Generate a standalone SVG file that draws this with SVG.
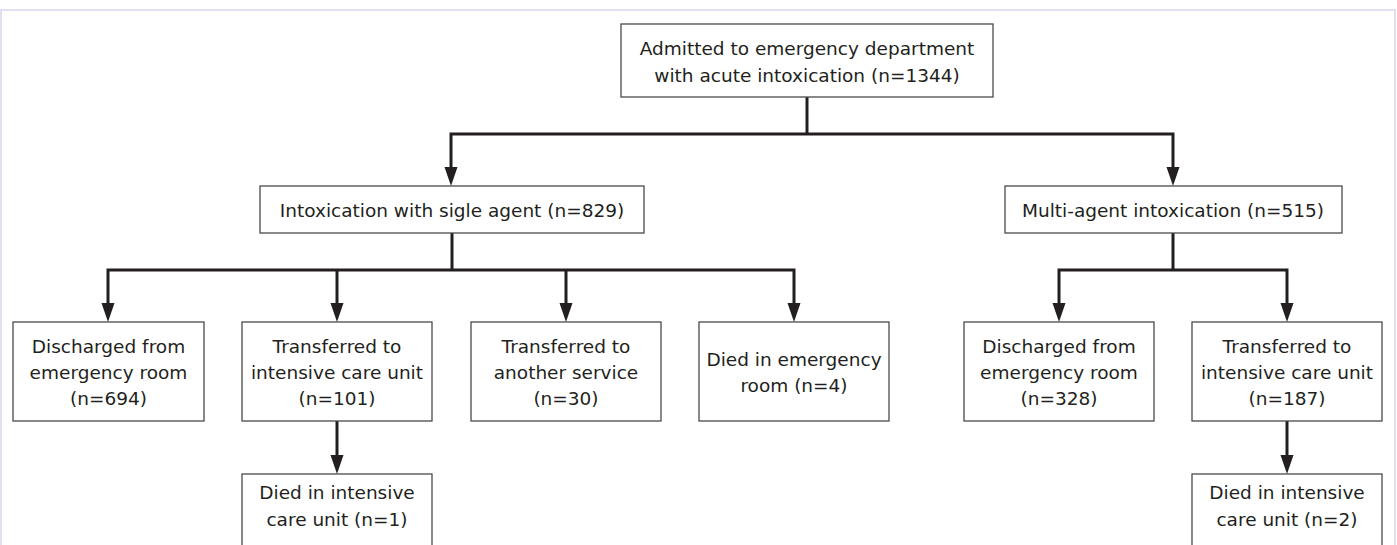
<svg xmlns="http://www.w3.org/2000/svg" width="1397" height="545" viewBox="0 0 1397 545">
<defs>
<style>
.box{fill:#fff;stroke:#4a4a4a;stroke-width:1.3}
.t{font-family:"DejaVu Sans","Verdana",sans-serif;font-size:18.5px;fill:#231f20;text-anchor:middle}
.c{fill:none;stroke:#231f20;stroke-width:3;stroke-linejoin:miter}
</style>
<marker id="ah" markerUnits="userSpaceOnUse" markerWidth="20" markerHeight="14" viewBox="0 -7 20 14" refX="0" refY="0" orient="auto">
<path d="M0,-6.5 L19,0 L0,6.5 Z" fill="#231f20"/>
</marker>
</defs>
<rect x="1" y="10" width="1394" height="560" fill="#fff" stroke="#e1dff2" stroke-width="2"/>
<g id="connectors">
<path class="c" d="M807,97 V134"/>
<path class="c" d="M807,134 H451 V167" marker-end="url(#ah)"/>
<path class="c" d="M807,134 H1173 V167" marker-end="url(#ah)"/>
<path class="c" d="M452,233 V270"/>
<path class="c" d="M452,270 H108 V303" marker-end="url(#ah)"/>
<path class="c" d="M337,270 V303" marker-end="url(#ah)"/>
<path class="c" d="M452,270 H794 V303" marker-end="url(#ah)"/>
<path class="c" d="M566,270 V303" marker-end="url(#ah)"/>
<path class="c" d="M1173,233 V270"/>
<path class="c" d="M1173,270 H1059 V303" marker-end="url(#ah)"/>
<path class="c" d="M1173,270 H1287 V303" marker-end="url(#ah)"/>
<path class="c" d="M337,421 V455" marker-end="url(#ah)"/>
<path class="c" d="M1287,421 V455" marker-end="url(#ah)"/>
</g>
<g id="n-admitted">
<rect class="box" x="621" y="24" width="372" height="73"/>
<text class="t" x="807" y="55">Admitted to emergency department</text>
<text class="t" x="807" y="82">with acute intoxication (n=1344)</text>
</g>
<g id="n-single">
<rect class="box" x="260" y="186" width="384" height="47"/>
<text class="t" x="452" y="217">Intoxication with sigle agent (n=829)</text>
</g>
<g id="n-multi">
<rect class="box" x="1005" y="186" width="337" height="47"/>
<text class="t" x="1173" y="217">Multi-agent intoxication (n=515)</text>
</g>
<g id="n-s-discharged">
<rect class="box" x="13" y="322" width="191" height="99"/>
<text class="t" x="108.5" y="353">Discharged from</text>
<text class="t" x="108.5" y="379">emergency room</text>
<text class="t" x="108.5" y="405">(n=694)</text>
</g>
<g id="n-s-icu">
<rect class="box" x="242" y="322" width="190" height="99"/>
<text class="t" x="337" y="353">Transferred to</text>
<text class="t" x="337" y="379">intensive care unit</text>
<text class="t" x="337" y="405">(n=101)</text>
</g>
<g id="n-s-service">
<rect class="box" x="471" y="322" width="190" height="99"/>
<text class="t" x="566" y="353">Transferred to</text>
<text class="t" x="566" y="379">another service</text>
<text class="t" x="566" y="405">(n=30)</text>
</g>
<g id="n-s-died-er">
<rect class="box" x="699" y="322" width="190" height="99"/>
<text class="t" x="794" y="366">Died in emergency</text>
<text class="t" x="794" y="392">room (n=4)</text>
</g>
<g id="n-m-discharged">
<rect class="box" x="964" y="322" width="190" height="99"/>
<text class="t" x="1059" y="353">Discharged from</text>
<text class="t" x="1059" y="379">emergency room</text>
<text class="t" x="1059" y="405">(n=328)</text>
</g>
<g id="n-m-icu">
<rect class="box" x="1192" y="322" width="190" height="99"/>
<text class="t" x="1287" y="353">Transferred to</text>
<text class="t" x="1287" y="379">intensive care unit</text>
<text class="t" x="1287" y="405">(n=187)</text>
</g>
<g id="n-s-icu-died">
<rect class="box" x="242" y="474" width="190" height="90"/>
<text class="t" x="337" y="499">Died in intensive</text>
<text class="t" x="337" y="526">care unit (n=1)</text>
</g>
<g id="n-m-icu-died">
<rect class="box" x="1192" y="474" width="190" height="90"/>
<text class="t" x="1287" y="499">Died in intensive</text>
<text class="t" x="1287" y="526">care unit (n=2)</text>
</g>
</svg>
